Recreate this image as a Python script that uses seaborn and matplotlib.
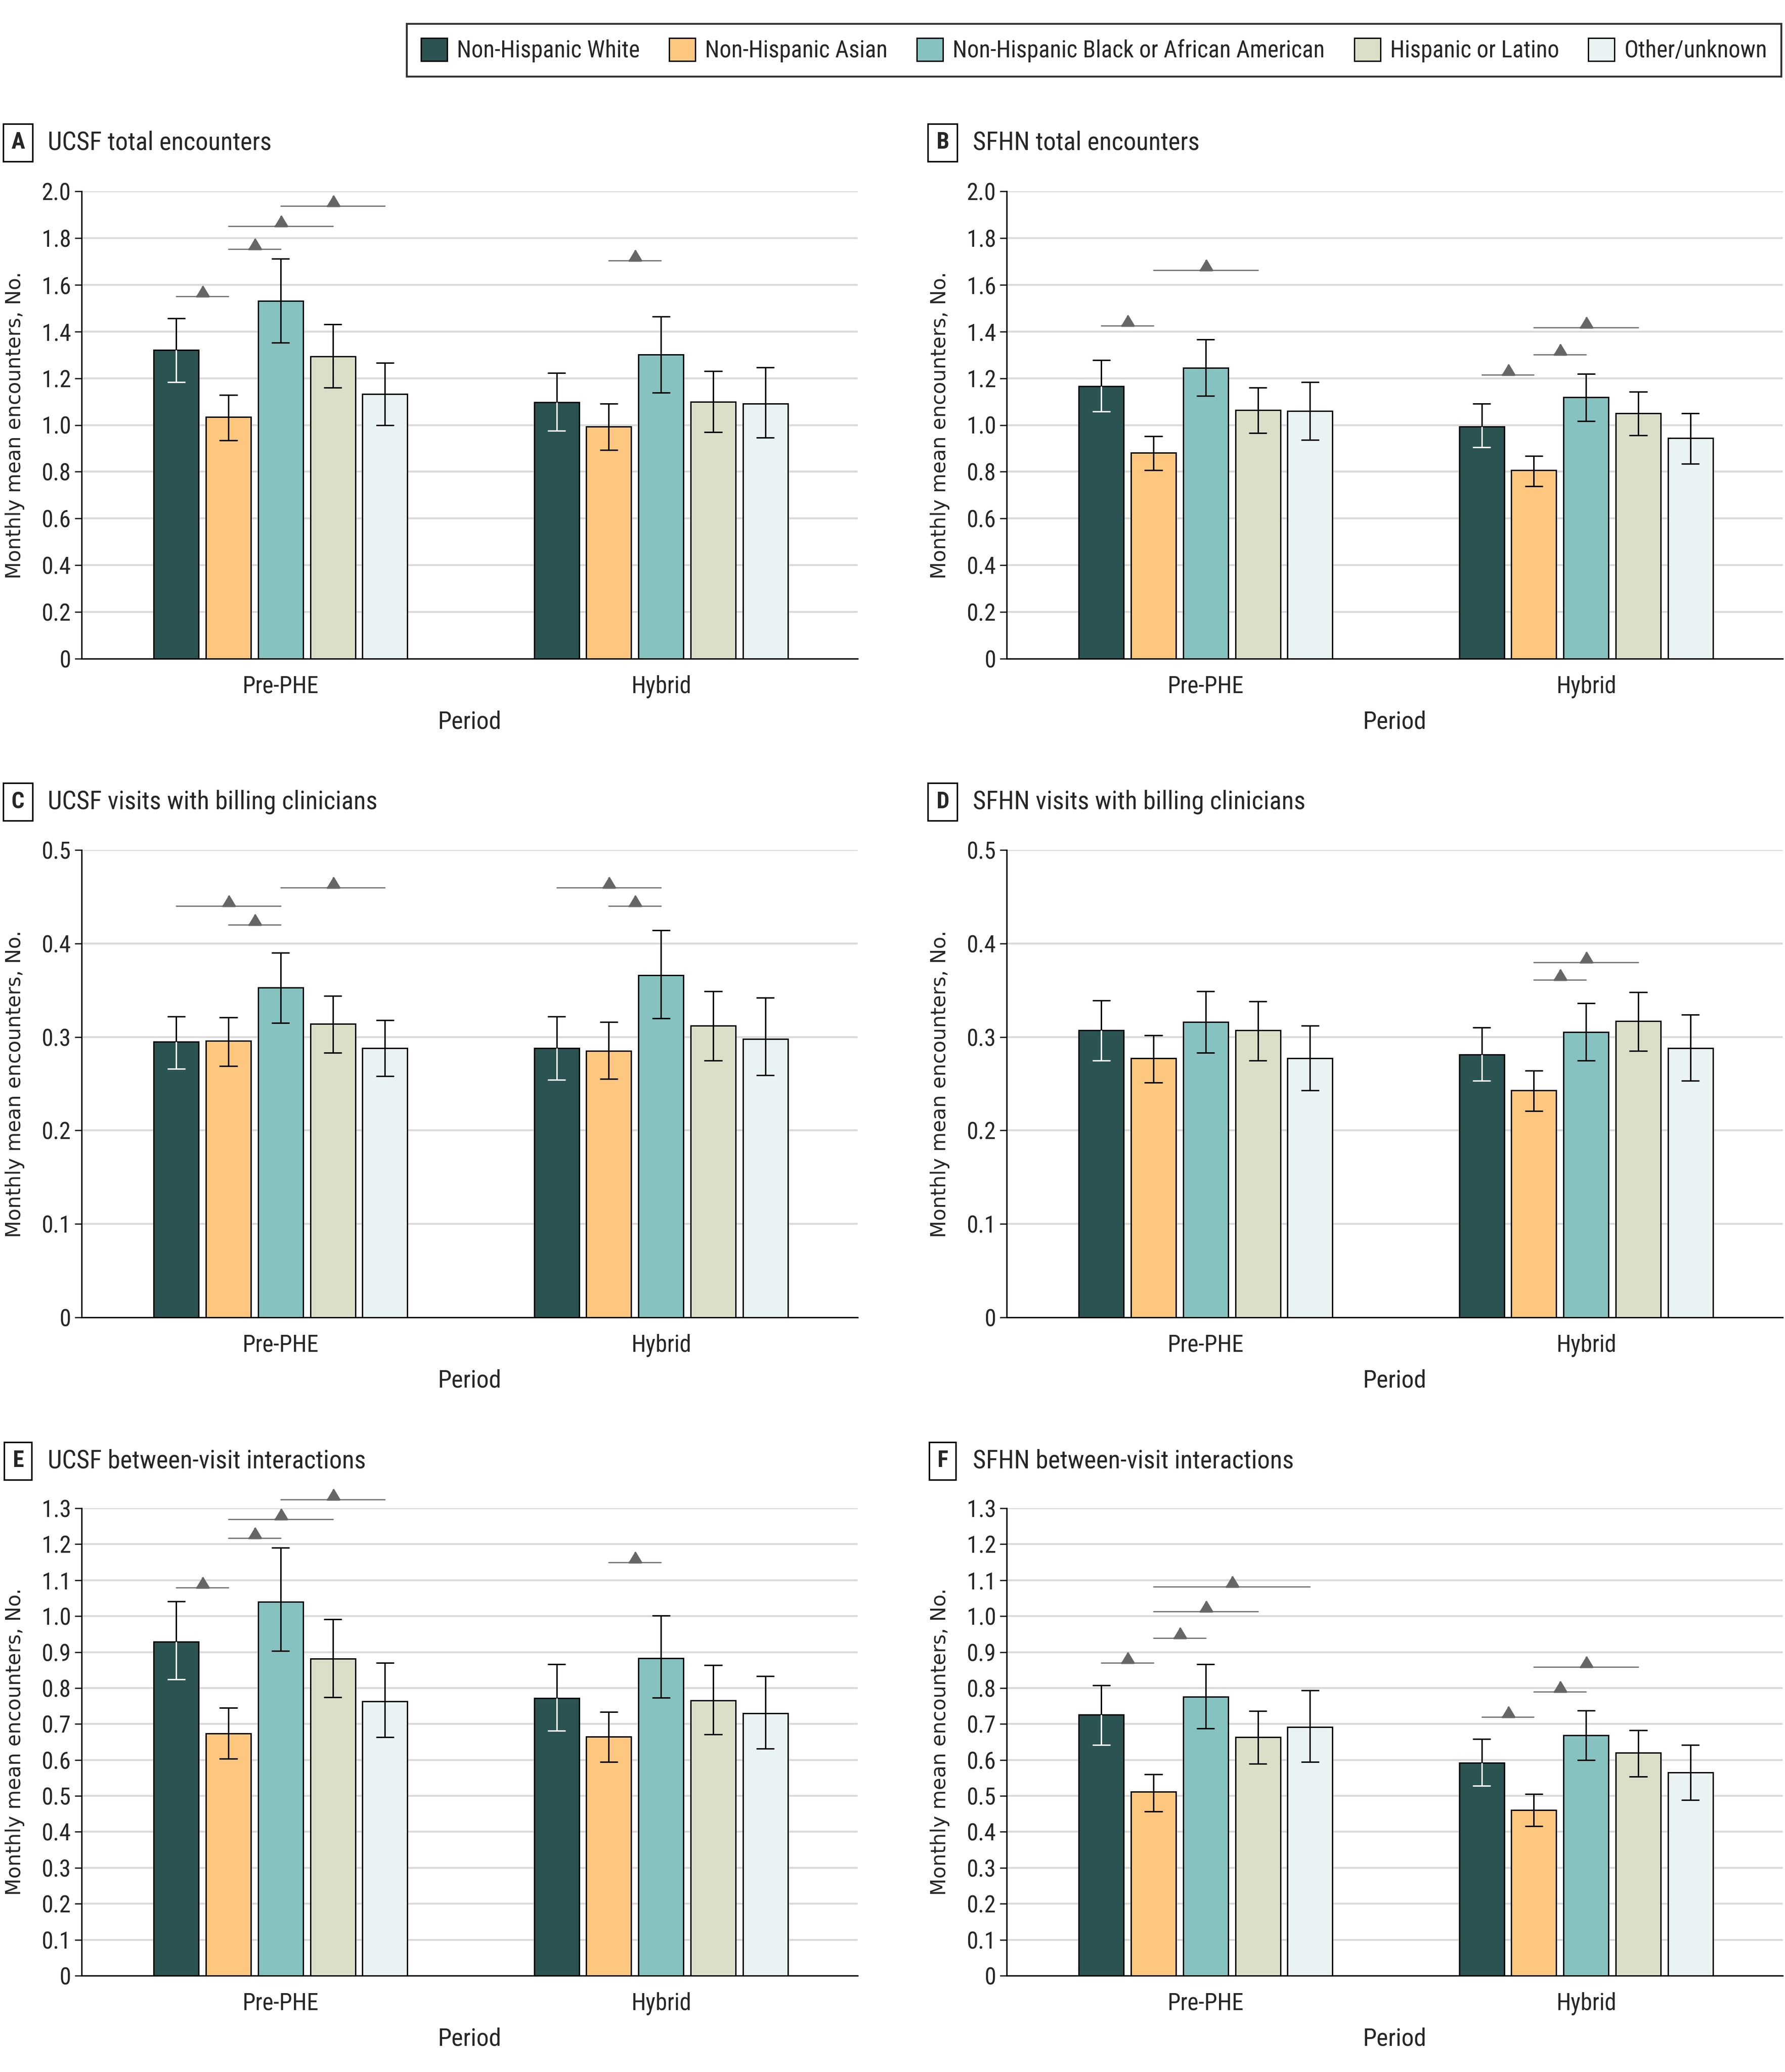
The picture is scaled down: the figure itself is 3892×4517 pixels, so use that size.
import numpy as np
import pandas as pd
import matplotlib
matplotlib.use('Agg')
import matplotlib.pyplot as plt
import seaborn as sns
from matplotlib import font_manager


groups = ['Non-Hispanic White', 'Non-Hispanic Asian',
          'Non-Hispanic Black or African American', 'Hispanic or Latino',
          'Other/unknown']
periods = ['Pre-PHE', 'Hybrid']
colors = ['#2a5352', '#fec77f', '#86c2c0', '#dbdfc8', '#eaf3f4']

# rows = period (Pre-PHE, Hybrid), cols = group
# sig = (period, group i, group j, height of bracket)

# A  UCSF total encounters
ucsf_total = [[1.320, 1.035, 1.530, 1.293, 1.132], [1.098, 0.993, 1.301, 1.100, 1.092]]
ucsf_total_lo = [[1.184, 0.934, 1.352, 1.160, 0.999], [0.975, 0.894, 1.139, 0.970, 0.946]]
ucsf_total_hi = [[1.457, 1.128, 1.712, 1.431, 1.266], [1.223, 1.092, 1.465, 1.230, 1.246]]
ucsf_total_sig = [(0, 0, 1, 1.550), (0, 1, 2, 1.753), (0, 1, 3, 1.851), (0, 2, 4, 1.937),
                  (1, 1, 2, 1.703)]

# B  SFHN total encounters
sfhn_total = [[1.166, 0.882, 1.245, 1.064, 1.059], [0.994, 0.807, 1.119, 1.051, 0.944]]
sfhn_total_lo = [[1.058, 0.807, 1.124, 0.965, 0.936], [0.905, 0.738, 1.017, 0.955, 0.835]]
sfhn_total_hi = [[1.277, 0.952, 1.366, 1.160, 1.184], [1.092, 0.868, 1.219, 1.142, 1.051]]
sfhn_total_sig = [(0, 0, 1, 1.425), (0, 1, 3, 1.662),
                  (1, 0, 1, 1.215), (1, 1, 2, 1.301), (1, 1, 3, 1.417)]

# C  UCSF visits with billing clinicians
ucsf_visits = [[0.295, 0.296, 0.353, 0.314, 0.288], [0.288, 0.285, 0.366, 0.312, 0.298]]
ucsf_visits_lo = [[0.266, 0.269, 0.315, 0.283, 0.258], [0.254, 0.255, 0.320, 0.275, 0.259]]
ucsf_visits_hi = [[0.322, 0.321, 0.390, 0.344, 0.318], [0.322, 0.316, 0.414, 0.349, 0.342]]
ucsf_visits_sig = [(0, 0, 2, 0.440), (0, 1, 2, 0.420), (0, 2, 4, 0.460),
                   (1, 0, 2, 0.460), (1, 1, 2, 0.440)]

# D  SFHN visits with billing clinicians
sfhn_visits = [[0.307, 0.277, 0.316, 0.307, 0.277], [0.281, 0.243, 0.305, 0.317, 0.288]]
sfhn_visits_lo = [[0.275, 0.251, 0.283, 0.275, 0.243], [0.253, 0.221, 0.275, 0.285, 0.253]]
sfhn_visits_hi = [[0.339, 0.302, 0.349, 0.338, 0.312], [0.310, 0.264, 0.336, 0.348, 0.324]]
sfhn_visits_sig = [(1, 1, 2, 0.361), (1, 1, 3, 0.380)]

# E  UCSF between-visit interactions
ucsf_between = [[0.929, 0.674, 1.040, 0.881, 0.763], [0.772, 0.665, 0.883, 0.766, 0.730]]
ucsf_between_lo = [[0.824, 0.604, 0.903, 0.775, 0.663], [0.681, 0.594, 0.773, 0.671, 0.631]]
ucsf_between_hi = [[1.041, 0.745, 1.190, 0.991, 0.870], [0.866, 0.734, 1.001, 0.864, 0.833]]
ucsf_between_sig = [(0, 0, 1, 1.079), (0, 1, 2, 1.217), (0, 1, 3, 1.270), (0, 2, 4, 1.324),
                    (1, 1, 2, 1.150)]

# F  SFHN between-visit interactions
sfhn_between = [[0.726, 0.511, 0.776, 0.664, 0.691], [0.592, 0.461, 0.669, 0.620, 0.565]]
sfhn_between_lo = [[0.642, 0.457, 0.688, 0.590, 0.594], [0.528, 0.416, 0.599, 0.554, 0.489]]
sfhn_between_hi = [[0.808, 0.560, 0.866, 0.736, 0.793], [0.658, 0.505, 0.737, 0.682, 0.642]]
sfhn_between_sig = [(0, 0, 1, 0.870), (0, 1, 2, 0.939), (0, 1, 3, 1.013), (0, 1, 4, 1.082),
                    (1, 0, 1, 0.719), (1, 1, 2, 0.790), (1, 1, 3, 0.859)]

yticks_total = [0, 0.2, 0.4, 0.6, 0.8, 1.0, 1.2, 1.4, 1.6, 1.8, 2.0]
yticks_visits = [0, 0.1, 0.2, 0.3, 0.4, 0.5]
yticks_between = [0, 0.1, 0.2, 0.3, 0.4, 0.5, 0.6, 0.7, 0.8, 0.9, 1.0, 1.1, 1.2, 1.3]

panels = [
    ('A', 'UCSF total encounters', ucsf_total, ucsf_total_lo, ucsf_total_hi, ucsf_total_sig, yticks_total),
    ('B', 'SFHN total encounters', sfhn_total, sfhn_total_lo, sfhn_total_hi, sfhn_total_sig, yticks_total),
    ('C', 'UCSF visits with billing clinicians', ucsf_visits, ucsf_visits_lo, ucsf_visits_hi, ucsf_visits_sig, yticks_visits),
    ('D', 'SFHN visits with billing clinicians', sfhn_visits, sfhn_visits_lo, sfhn_visits_hi, sfhn_visits_sig, yticks_visits),
    ('E', 'UCSF between-visit interactions', ucsf_between, ucsf_between_lo, ucsf_between_hi, ucsf_between_sig, yticks_between),
    ('F', 'SFHN between-visit interactions', sfhn_between, sfhn_between_lo, sfhn_between_hi, sfhn_between_sig, yticks_between),
]

sns.set_style('white')

# look for a narrow sans, the reference uses a condensed face
fonts = font_manager.fontManager.ttflist
names = {f.name for f in fonts}
main_font = None
for cand in ['Roboto Condensed', 'Liberation Sans Narrow', 'Open Sans Condensed',
             'Noto Sans Condensed', 'DejaVu Sans Condensed']:
    if cand in names:
        main_font = cand
        break
stretch = 'normal'
if main_font is None:
    if any(f.name == 'DejaVu Sans' and f.stretch == 'condensed' for f in fonts):
        main_font, stretch = 'DejaVu Sans', 'condensed'
    else:
        main_font = 'Liberation Sans'
plt.rcParams['font.family'] = [main_font, 'DejaVu Sans']
plt.rcParams['font.stretch'] = stretch

W, H = 3892, 4517
fig = plt.figure(figsize=(W / 300, H / 300), dpi=300)
renderer = fig.canvas.get_renderer()


def fit_size(s, target_px, **kw):
    # font size that gives the text the width seen in the reference
    t = fig.text(0, 0, s, fontsize=10, **kw)
    w = t.get_window_extent(renderer).width
    t.remove()
    return 10 * target_px / w


fs_title = min(fit_size('UCSF total encounters', 489), 15)
fs_tick = min(fit_size('Pre-PHE', 167), 13.5)
fs_period = min(fit_size('Period', 139), 14)
fs_leg = min(fit_size('Non-Hispanic White', 400), 13.5)
fs_ylab = fit_size('Monthly mean encounters, No.', 670, family='DejaVu Sans')

# axes boxes in pixels (left, top) of reference
col_left = [178, 2195]
row_top = [417, 1853, 3288]
ax_w, ax_h = 1692, 1019

tri = [(-0.6, 0), (0.6, 0), (0, 1.0)]
axes = []
for k, (letter, title, mean, lo, hi, sig, yt) in enumerate(panels):
    r, c = divmod(k, 2)
    left = col_left[c] / W
    bottom = 1 - (row_top[r] + ax_h) / H
    ax = fig.add_axes([left, bottom, ax_w / W, ax_h / H])
    axes.append(ax)

    df = pd.DataFrame({
        'period': np.repeat(periods, len(groups)),
        'group': groups * len(periods),
        'value': np.ravel(mean),
    })
    sns.barplot(data=df, x='period', y='value', hue='group', hue_order=groups,
                palette=colors, saturation=1, width=0.686, gap=0.14, edgecolor='black',
                linewidth=0.7, errorbar=None, ax=ax, legend=(k == 0), zorder=2)

    # error bars (white inside the dark bar)
    for h, cont in enumerate(ax.containers):
        for p, bar in enumerate(cont):
            xc = bar.get_x() + bar.get_width() / 2
            cw = bar.get_width() * 0.2
            m, l, u = mean[p][h], lo[p][h], hi[p][h]
            low_col = 'white' if h == 0 else 'black'
            ax.vlines(xc, m, u, color='black', lw=0.75, zorder=4)
            ax.hlines(u, xc - cw, xc + cw, color='black', lw=0.75, zorder=4)
            ax.vlines(xc, l, m, color=low_col, lw=0.75, zorder=4)
            ax.hlines(l, xc - cw, xc + cw, color=low_col, lw=0.75, zorder=4)

    # significance brackets
    for p, i, j, y in sig:
        b1 = ax.containers[i][p]
        b2 = ax.containers[j][p]
        x1 = b1.get_x() + b1.get_width() / 2
        x2 = b2.get_x() + b2.get_width() / 2
        ax.plot([x1, x2], [y, y], color='#666666', lw=0.6, clip_on=False, zorder=3)
        ax.plot([(x1 + x2) / 2], [y], marker=tri, ms=11, color='#666666',
                ls='none', clip_on=False, zorder=3)

    ax.set_xlim(-0.523, 1.517)
    ax.set_ylim(0, yt[-1])
    ax.set_yticks(yt)
    ax.set_yticklabels(['0' if v == 0 else f'{v:.1f}' for v in yt])
    ax.yaxis.grid(True, color='#dadada', lw=1.0)
    ax.set_axisbelow(True)
    for s in ['top', 'right']:
        ax.spines[s].set_visible(False)
    for s in ['left', 'bottom']:
        ax.spines[s].set_color('black')
        ax.spines[s].set_linewidth(0.7)
    ax.tick_params(axis='y', left=True, length=3.6, width=0.7, pad=2, labelsize=fs_tick)
    ax.tick_params(axis='x', bottom=False, pad=5, labelsize=fs_tick)
    ax.set_xlabel('Period', fontsize=fs_period, va='top')
    ax.xaxis.set_label_coords(0.5, -0.11)
    ax.set_ylabel('Monthly mean encounters, No.', fontsize=fs_ylab, family='DejaVu Sans')
    ax.yaxis.set_label_coords(-0.073, 0.5)

    # panel letter box and title
    ty = 1 - [311, 1748, 3185][r] / H
    bx = [39, 2055][c] / W
    fig.text(bx, ty, letter, ha='center', va='center', fontsize=fs_title * 0.9,
             fontweight='bold',
             bbox=dict(boxstyle='square,pad=0.35', fc='white', ec='black', lw=0.8))
    fig.text([104, 2121][c] / W, ty, title, ha='left', va='center', fontsize=fs_title)

# shared legend across the top
leg0 = axes[0].get_legend()
handles = list(leg0.legend_handles)
labels = [t.get_text() for t in leg0.get_texts()]
leg0.remove()
for hdl in handles:
    hdl.set_edgecolor('black')
    hdl.set_linewidth(0.7)
em = fs_leg * 300 / 72
leg = fig.legend(handles, labels, loc='upper right', bbox_to_anchor=(3884 / W, 1 - 52 / H),
                 ncol=5, frameon=True, fancybox=False, fontsize=fs_leg,
                 handlelength=57 / em, handleheight=57 / em, handletextpad=21 / em,
                 columnspacing=64 / em, borderpad=0.6, borderaxespad=0)
leg.get_frame().set_edgecolor('black')
leg.get_frame().set_linewidth(1.0)

fig.savefig('out.png', dpi=300)
